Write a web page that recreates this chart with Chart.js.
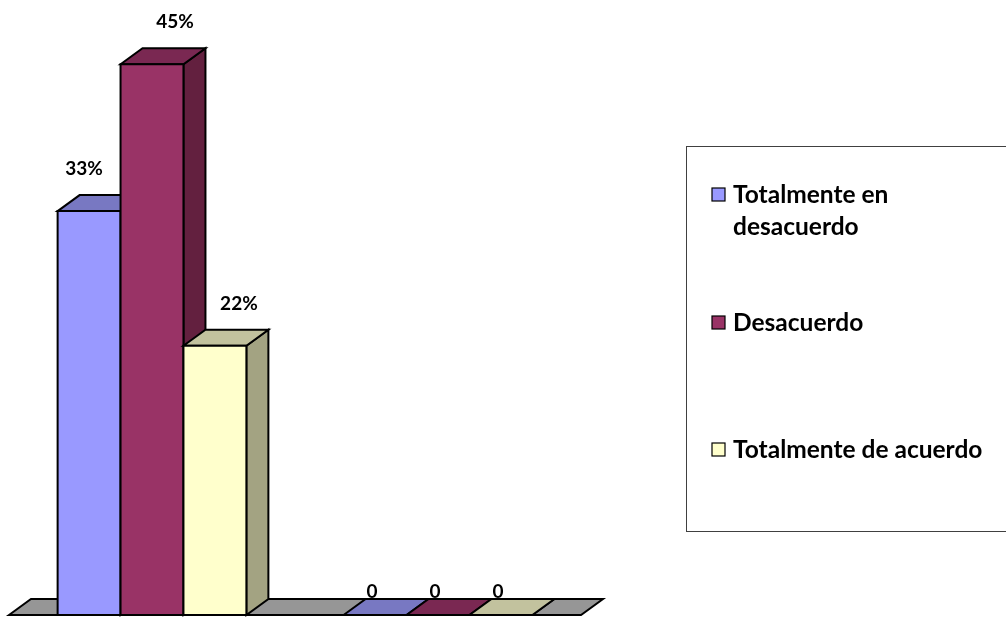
<!DOCTYPE html>
<html>
<head>
<meta charset="utf-8">
<script src="https://cdn.jsdelivr.net/npm/chart.js@4/dist/chart.umd.min.js"></script>
<style>
html,body{margin:0;padding:0;background:#ffffff;}
#wrap{width:1006px;height:617px;position:relative;overflow:hidden;}
canvas{display:block;}
</style>
</head>
<body>
<div id="wrap"><canvas id="c" width="1006" height="617"></canvas></div>
<script>
// ---- data ----
const categories = ["1", "2"];
const seriesNames = ["Totalmente en desacuerdo", "Desacuerdo", "Totalmente de acuerdo"];
const totalmenteEnDesacuerdo = [33, 0];
const desacuerdoValues = [45, 0];
const totalmenteDeAcuerdo = [22, 0];
const yMin = 0;
const yMax = 50;

// ---- styles ----
const FRONT = ['#9999FF', '#993366', '#FFFFCC'];
const TOP   = ['#7878C2', '#7A2852', '#C2C29E'];
const SIDE  = ['#6A6AB0', '#63203F', '#A3A382'];
const FLOOR = '#969696';
const DX = 22, DY = 16;
const FONT = 'Lato, "Open Sans", "DejaVu Sans", sans-serif';

function fmt(v){ return v === 0 ? '0' : v + '%'; }

function poly(ctx, pts, fill){
  ctx.beginPath();
  ctx.moveTo(pts[0][0], pts[0][1]);
  for (let i = 1; i < pts.length; i++) ctx.lineTo(pts[i][0], pts[i][1]);
  ctx.closePath();
  ctx.fillStyle = fill;
  ctx.fill();
  ctx.stroke();
}

const bars3d = {
  id: 'bars3d',
  beforeDatasetsDraw(chart){
    const ctx = chart.ctx, ca = chart.chartArea;
    const base = chart.scales.y.getPixelForValue(0);
    ctx.save();
    ctx.lineWidth = 2; ctx.strokeStyle = '#000'; ctx.lineJoin = 'miter';
    poly(ctx, [[ca.left, base],[ca.left+DX, base-DY],[ca.right+DX, base-DY],[ca.right, base]], FLOOR);
    ctx.restore();
  },
  afterDatasetsDraw(chart){
    const ctx = chart.ctx;
    const n = chart.data.labels.length;
    const nd = chart.data.datasets.length;
    ctx.save();
    ctx.lineWidth = 2; ctx.strokeStyle = '#000'; ctx.lineJoin = 'miter';
    for (let j = 0; j < n; j++){
      for (let i = 0; i < nd; i++){
        const el = chart.getDatasetMeta(i).data[j];
        const l = el.x - el.width/2, r = el.x + el.width/2, t = el.y, b = el.base;
        poly(ctx, [[r,t],[r+DX,t-DY],[r+DX,b-DY],[r,b]], SIDE[i]);
        poly(ctx, [[l,t],[l+DX,t-DY],[r+DX,t-DY],[r,t]], TOP[i]);
        if (b - t > 0.5) poly(ctx, [[l,t],[r,t],[r,b],[l,b]], FRONT[i]);
      }
    }
    // value labels
    const nzOffset = [-5, 23, 24];
    ctx.fillStyle = '#000';
    ctx.font = 'bold 19px ' + FONT;
    ctx.textAlign = 'center';
    ctx.textBaseline = 'alphabetic';
    for (let i = 0; i < nd; i++){
      const ds = chart.data.datasets[i];
      chart.getDatasetMeta(i).data.forEach((el, j) => {
        const v = ds.data[j];
        if (v === 0) ctx.fillText(fmt(v), el.x - 3, el.y - 17);
        else ctx.fillText(fmt(v), el.x + nzOffset[i], el.y - 36);
      });
    }
    ctx.restore();
  },
  afterDraw(chart){
    // legend
    const ctx = chart.ctx;
    ctx.save();
    ctx.strokeStyle = '#404040'; ctx.lineWidth = 1;
    ctx.strokeRect(686.5, 146.5, 340, 385);
    const baselines = [203, 331, 458];
    ctx.font = 'bold 24.5px ' + FONT;
    ctx.textAlign = 'left'; ctx.textBaseline = 'alphabetic';
    const maxW = 262;
    chart.data.datasets.forEach((ds, i) => {
      const y = baselines[i];
      ctx.fillStyle = FRONT[i];
      ctx.fillRect(712, y - 15, 13, 13);
      ctx.strokeStyle = '#000'; ctx.lineWidth = 1.2;
      ctx.strokeRect(712, y - 15, 13, 13);
      // wrap words
      const words = ds.label.split(' ');
      const lines = []; let cur = '';
      words.forEach(w => {
        const test = cur ? cur + ' ' + w : w;
        if (ctx.measureText(test).width > maxW && cur){ lines.push(cur); cur = w; }
        else cur = test;
      });
      lines.push(cur);
      ctx.fillStyle = '#000';
      lines.forEach((ln, k) => ctx.fillText(ln, 733, y + k*32));
    });
    ctx.restore();
  }
};

const seriesValues = [totalmenteEnDesacuerdo, desacuerdoValues, totalmenteDeAcuerdo];

new Chart(document.getElementById('c'), {
  type: 'bar',
  data: {
    labels: categories,
    datasets: seriesNames.map((name, i) => ({
      label: name,
      data: seriesValues[i],
      backgroundColor: 'rgba(0,0,0,0)',
      borderWidth: 0,
      categoryPercentage: 0.66,
      barPercentage: 1.0
    }))
  },
  options: {
    responsive: false,
    devicePixelRatio: 1,
    animation: false,
    layout: { padding: { left: 9, right: 425, top: 3, bottom: 2 } },
    plugins: { legend: { display: false }, tooltip: { enabled: false } },
    scales: {
      x: { display: false },
      y: { display: false, min: yMin, max: yMax }
    }
  },
  plugins: [bars3d]
});
</script>
</body>
</html>
